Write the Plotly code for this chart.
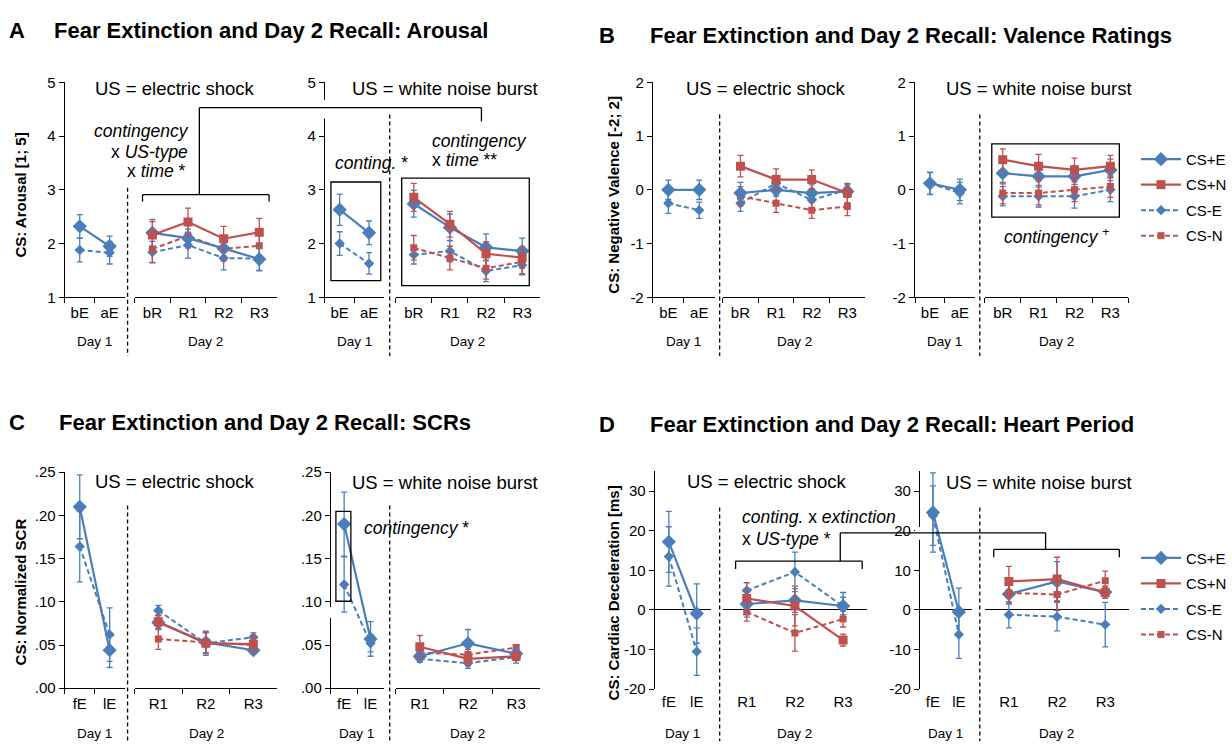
import plotly.graph_objects as go

W, H = 1232, 749
BLUE = "#4A7EBB"
RED = "#C0504D"
FONT = "Liberation Sans, Arial, sans-serif"

# ---------------- categories ----------------
rating_day1 = ["bE", "aE"]
rating_day2 = ["bR", "R1", "R2", "R3"]
phys_day1 = ["fE", "lE"]
phys_day2 = ["R1", "R2", "R3"]
series_names = ["CS+E", "CS+N", "CS-E", "CS-N"]

# ---------------- A: Arousal ----------------
A_shock_d1_CSpE = [2.32, 1.95]
A_shock_d1_CSpE_se = [0.22, 0.19]
A_shock_d1_CSmE = [1.88, 1.83]
A_shock_d1_CSmE_se = [0.22, 0.21]
A_shock_d2_CSpE = [2.20, 2.10, 1.91, 1.71]
A_shock_d2_CSpE_se = [0.25, 0.17, 0.20, 0.22]
A_shock_d2_CSpN = [2.16, 2.40, 2.09, 2.21]
A_shock_d2_CSpN_se = [0.25, 0.26, 0.23, 0.26]
A_shock_d2_CSmE = [1.84, 1.97, 1.73, 1.72]
A_shock_d2_CSmE_se = [0.20, 0.24, 0.22, 0.22]
A_shock_d2_CSmN = [1.90, 2.14, 1.90, 1.96]
A_shock_d2_CSmN_se = [0.25, 0.22, 0.22, 0.20]

A_noise_d1_CSpE = [2.63, 2.20]
A_noise_d1_CSpE_se = [0.29, 0.22]
A_noise_d1_CSmE = [2.00, 1.63]
A_noise_d1_CSmE_se = [0.22, 0.20]
A_noise_d2_CSpE = [2.74, 2.30, 1.93, 1.86]
A_noise_d2_CSpE_se = [0.25, 0.25, 0.25, 0.24]
A_noise_d2_CSpN = [2.86, 2.36, 1.81, 1.74]
A_noise_d2_CSpN_se = [0.26, 0.24, 0.22, 0.20]
A_noise_d2_CSmE = [1.79, 1.86, 1.49, 1.60]
A_noise_d2_CSmE_se = [0.17, 0.20, 0.20, 0.18]
A_noise_d2_CSmN = [1.92, 1.73, 1.54, 1.66]
A_noise_d2_CSmN_se = [0.23, 0.22, 0.20, 0.22]

# ---------------- B: Valence ----------------
B_shock_d1_CSpE = [0.0, 0.0]
B_shock_d1_CSpE_se = [0.18, 0.18]
B_shock_d1_CSmE = [-0.25, -0.38]
B_shock_d1_CSmE_se = [0.19, 0.15]
B_shock_d2_CSpE = [-0.06, 0.0, -0.06, -0.03]
B_shock_d2_CSpE_se = [0.20, 0.12, 0.15, 0.10]
B_shock_d2_CSpN = [0.44, 0.19, 0.19, -0.06]
B_shock_d2_CSpN_se = [0.20, 0.20, 0.18, 0.18]
B_shock_d2_CSmE = [-0.25, 0.12, -0.19, 0.0]
B_shock_d2_CSmE_se = [0.15, 0.15, 0.15, 0.10]
B_shock_d2_CSmN = [-0.12, -0.25, -0.38, -0.31]
B_shock_d2_CSmN_se = [0.18, 0.17, 0.15, 0.17]

B_noise_d1_CSpE = [0.12, 0.0]
B_noise_d1_CSpE_se = [0.21, 0.20]
B_noise_d1_CSmE = [0.12, -0.06]
B_noise_d1_CSmE_se = [0.20, 0.20]
B_noise_d2_CSpE = [0.31, 0.25, 0.25, 0.37]
B_noise_d2_CSpE_se = [0.20, 0.20, 0.20, 0.20]
B_noise_d2_CSpN = [0.56, 0.44, 0.37, 0.44]
B_noise_d2_CSpN_se = [0.20, 0.22, 0.22, 0.20]
B_noise_d2_CSmE = [-0.12, -0.12, -0.12, 0.0]
B_noise_d2_CSmE_se = [0.18, 0.20, 0.22, 0.22]
B_noise_d2_CSmN = [-0.06, -0.06, 0.0, 0.06]
B_noise_d2_CSmN_se = [0.20, 0.22, 0.22, 0.20]

# ---------------- C: SCR ----------------
C_shock_d1_CSpE = [0.210, 0.044]
C_shock_d1_CSpE_se = [0.037, 0.020]
C_shock_d1_CSmE = [0.164, 0.062]
C_shock_d1_CSmE_se = [0.041, 0.031]
C_shock_d2_CSpE = [0.076, 0.053, 0.044]
C_shock_d2_CSpE_se = [0.008, 0.012, 0.004]
C_shock_d2_CSpN = [0.077, 0.052, 0.051]
C_shock_d2_CSpN_se = [0.008, 0.012, 0.010]
C_shock_d2_CSmE = [0.090, 0.052, 0.059]
C_shock_d2_CSmE_se = [0.006, 0.014, 0.005]
C_shock_d2_CSmN = [0.057, 0.053, 0.050]
C_shock_d2_CSmN_se = [0.012, 0.012, 0.008]

C_noise_d1_CSpE = [0.190, 0.057]
C_noise_d1_CSpE_se = [0.037, 0.020]
C_noise_d1_CSmE = [0.120, 0.052]
C_noise_d1_CSmE_se = [0.032, 0.010]
C_noise_d2_CSpE = [0.037, 0.052, 0.040]
C_noise_d2_CSpE_se = [0.005, 0.016, 0.005]
C_noise_d2_CSpN = [0.048, 0.034, 0.037]
C_noise_d2_CSpN_se = [0.013, 0.008, 0.005]
C_noise_d2_CSmE = [0.034, 0.029, 0.036]
C_noise_d2_CSmE_se = [0.004, 0.006, 0.007]
C_noise_d2_CSmN = [0.041, 0.039, 0.047]
C_noise_d2_CSmN_se = [0.008, 0.006, 0.003]

# ---------------- D: Heart period ----------------
D_shock_d1_CSpE = [17.2, -0.9]
D_shock_d1_CSpE_se = [7.7, 7.5]
D_shock_d1_CSmE = [13.5, -10.5]
D_shock_d1_CSmE_se = [7.5, 6.0]
D_shock_d2_CSpE = [1.5, 2.4, 1.0]
D_shock_d2_CSpE_se = [3.3, 3.0, 2.2]
D_shock_d2_CSpN = [2.9, 1.0, -7.6]
D_shock_d2_CSpN_se = [4.0, 5.0, 1.5]
D_shock_d2_CSmE = [4.9, 9.6, 0.9]
D_shock_d2_CSmE_se = [2.0, 5.0, 3.5]
D_shock_d2_CSmN = [-0.5, -5.8, -2.3]
D_shock_d2_CSmN_se = [2.3, 4.6, 2.0]

D_noise_d1_CSpE = [24.6, -0.5]
D_noise_d1_CSpE_se = [10.0, 6.0]
D_noise_d1_CSmE = [23.8, -6.2]
D_noise_d1_CSmE_se = [7.5, 6.0]
D_noise_d2_CSpE = [4.0, 7.2, 4.5]
D_noise_d2_CSpE_se = [2.5, 5.0, 1.5]
D_noise_d2_CSpN = [7.2, 7.8, 4.4]
D_noise_d2_CSpN_se = [3.8, 5.5, 1.5]
D_noise_d2_CSmE = [-1.2, -1.7, -3.7]
D_noise_d2_CSmE_se = [3.3, 3.6, 5.6]
D_noise_d2_CSmN = [4.3, 3.9, 7.4]
D_noise_d2_CSmN_se = [2.5, 4.0, 2.4]

# ---------------- helpers ----------------
STYLE = {
    "CS+E": dict(color=BLUE, dash="solid", symbol="diamond", size=11, width=2.2),
    "CS+N": dict(color=RED, dash="solid", symbol="square", size=9, width=2.2),
    "CS-E": dict(color=BLUE, dash="5px,3px", symbol="diamond", size=8, width=2.0),
    "CS-N": dict(color=RED, dash="5px,3px", symbol="square", size=7, width=2.0),
}
TICK = 15

fig = go.Figure()
layout_axes = {}
annotations = []
shapes = []


def fx(p):
    return p / W


def fy(p):
    return 1 - p / H


def segment(n, x0, x1, y0, y1, cats, yrange, series, yaxis_shown,
            ytickvals=None, yticktext=None, zero=False, legend=None):
    xa = dict(domain=[fx(x0), fx(x1)], anchor=f"y{n}", type="category",
              categoryorder="array", categoryarray=cats,
              range=[-0.5, len(cats) - 0.5], showline=not zero,
              linecolor="black", linewidth=1.3, ticks="outside",
              tickson="boundaries", ticklen=5,
              tickcolor="black" if not zero else "rgba(0,0,0,0)",
              tickwidth=1.2, ticklabelstandoff=2,
              tickfont=dict(size=TICK, color="black", family=FONT),
              showgrid=False, zeroline=False, fixedrange=True)
    ya = dict(domain=[fy(y1), fy(y0)], anchor=f"x{n}", range=yrange,
              showgrid=False, fixedrange=True, zeroline=zero,
              zerolinecolor="black", zerolinewidth=1.3)
    if yaxis_shown:
        ya.update(showline=True, linecolor="black", linewidth=1.3,
                  ticks="outside", ticklen=5, tickcolor="black", tickwidth=1.2,
                  tickmode="array", tickvals=ytickvals, ticktext=yticktext,
                  tickfont=dict(size=TICK, color="black", family=FONT))
    else:
        ya.update(showline=False, ticks="", showticklabels=False)
    key = "" if n == 1 else str(n)
    layout_axes[f"xaxis{key}"] = xa
    layout_axes[f"yaxis{key}"] = ya
    for name, vals, se in series:
        st = STYLE[name]
        if legend:
            kw = dict(showlegend=True, legend=legend,
                      legendgroup=f"{legend}_{name}")
        else:
            kw = dict(showlegend=False)
        fig.add_trace(go.Scatter(
            x=cats, y=vals, name=name, mode="lines+markers",
            xaxis=f"x{key}", yaxis=f"y{key}",
            line=dict(color=st["color"], width=st["width"], dash=st["dash"]),
            marker=dict(symbol=st["symbol"], size=st["size"], color=st["color"]),
            error_y=dict(type="data", array=se, visible=True,
                         color=st["color"], thickness=1.3, width=3),
            hoverinfo="skip", **kw))


def txt(x, y, text, size, anchor="center", angle=0):
    annotations.append(dict(x=fx(x), y=fy(y), xref="paper", yref="paper",
                            text=text, showarrow=False, xanchor=anchor,
                            yanchor="middle", textangle=angle,
                            font=dict(size=size, family=FONT, color="black")))


def line(x0, y0, x1, y1, dash=None, width=1.3):
    shapes.append(dict(type="line", xref="paper", yref="paper",
                       x0=fx(x0), y0=fy(y0), x1=fx(x1), y1=fy(y1),
                       layer="above",
                       line=dict(color="black", width=width, dash=dash)))


def rect(x0, y0, x1, y1, fill=None, width=1.3):
    shapes.append(dict(type="rect", xref="paper", yref="paper",
                       x0=fx(x0), y0=fy(y0), x1=fx(x1), y1=fy(y1),
                       layer="above",
                       fillcolor=fill if fill else "rgba(0,0,0,0)",
                       line=dict(color="black" if not fill else fill,
                                 width=width if not fill else 0)))


# ---------------- Panel A ----------------
A_ticks = [1, 2, 3, 4, 5]
A_text = ["1", "2", "3", "4", "5"]
yA = (75, 295, [1, 5])
segment(1, 65, 125, yA[0], yA[1], rating_day1, yA[2],
        [("CS-E", A_shock_d1_CSmE, A_shock_d1_CSmE_se),
         ("CS+E", A_shock_d1_CSpE, A_shock_d1_CSpE_se)], True, A_ticks, A_text)
segment(2, 135, 278, yA[0], yA[1], rating_day2, yA[2],
        [("CS-E", A_shock_d2_CSmE, A_shock_d2_CSmE_se),
         ("CS-N", A_shock_d2_CSmN, A_shock_d2_CSmN_se),
         ("CS+E", A_shock_d2_CSpE, A_shock_d2_CSpE_se),
         ("CS+N", A_shock_d2_CSpN, A_shock_d2_CSpN_se)], False)
segment(3, 326, 385, yA[0], yA[1], rating_day1, yA[2],
        [("CS-E", A_noise_d1_CSmE, A_noise_d1_CSmE_se),
         ("CS+E", A_noise_d1_CSpE, A_noise_d1_CSpE_se)], True, A_ticks, A_text)
segment(4, 397, 542, yA[0], yA[1], rating_day2, yA[2],
        [("CS-E", A_noise_d2_CSmE, A_noise_d2_CSmE_se),
         ("CS-N", A_noise_d2_CSmN, A_noise_d2_CSmN_se),
         ("CS+E", A_noise_d2_CSpE, A_noise_d2_CSpE_se),
         ("CS+N", A_noise_d2_CSpN, A_noise_d2_CSpN_se)], False)

# ---------------- Panel B ----------------
B_ticks = [-2, -1, 0, 1, 2]
B_text = ["-2", "-1", "0", "1", "2"]
yB = (75, 295, [-2, 2])
segment(5, 655, 717, yB[0], yB[1], rating_day1, yB[2],
        [("CS-E", B_shock_d1_CSmE, B_shock_d1_CSmE_se),
         ("CS+E", B_shock_d1_CSpE, B_shock_d1_CSpE_se)], True, B_ticks, B_text)
segment(6, 725, 868, yB[0], yB[1], rating_day2, yB[2],
        [("CS-E", B_shock_d2_CSmE, B_shock_d2_CSmE_se),
         ("CS-N", B_shock_d2_CSmN, B_shock_d2_CSmN_se),
         ("CS+E", B_shock_d2_CSpE, B_shock_d2_CSpE_se),
         ("CS+N", B_shock_d2_CSpN, B_shock_d2_CSpN_se)], False)
segment(7, 918, 978, yB[0], yB[1], rating_day1, yB[2],
        [("CS-E", B_noise_d1_CSmE, B_noise_d1_CSmE_se),
         ("CS+E", B_noise_d1_CSpE, B_noise_d1_CSpE_se)], True, B_ticks, B_text)
segment(8, 988, 1132, yB[0], yB[1], rating_day2, yB[2],
        [("CS+E", B_noise_d2_CSpE, B_noise_d2_CSpE_se),
         ("CS+N", B_noise_d2_CSpN, B_noise_d2_CSpN_se),
         ("CS-E", B_noise_d2_CSmE, B_noise_d2_CSmE_se),
         ("CS-N", B_noise_d2_CSmN, B_noise_d2_CSmN_se)], False, legend="legend")

# ---------------- Panel C ----------------
C_ticks = [0, 0.05, 0.10, 0.15, 0.20, 0.25]
C_text = [".00", ".05", ".10", ".15", ".20", ".25"]
yC = (474, 695, [0, 0.25])
segment(9, 65, 125, yC[0], yC[1], phys_day1, yC[2],
        [("CS-E", C_shock_d1_CSmE, C_shock_d1_CSmE_se),
         ("CS+E", C_shock_d1_CSpE, C_shock_d1_CSpE_se)], True, C_ticks, C_text)
segment(10, 135, 278, yC[0], yC[1], phys_day2, yC[2],
        [("CS-E", C_shock_d2_CSmE, C_shock_d2_CSmE_se),
         ("CS-N", C_shock_d2_CSmN, C_shock_d2_CSmN_se),
         ("CS+E", C_shock_d2_CSpE, C_shock_d2_CSpE_se),
         ("CS+N", C_shock_d2_CSpN, C_shock_d2_CSpN_se)], False)
segment(11, 332, 385, yC[0], yC[1], phys_day1, yC[2],
        [("CS-E", C_noise_d1_CSmE, C_noise_d1_CSmE_se),
         ("CS+E", C_noise_d1_CSpE, C_noise_d1_CSpE_se)], True, C_ticks, C_text)
segment(12, 397, 542, yC[0], yC[1], phys_day2, yC[2],
        [("CS-E", C_noise_d2_CSmE, C_noise_d2_CSmE_se),
         ("CS-N", C_noise_d2_CSmN, C_noise_d2_CSmN_se),
         ("CS+E", C_noise_d2_CSpE, C_noise_d2_CSpE_se),
         ("CS+N", C_noise_d2_CSpN, C_noise_d2_CSpN_se)], False)

# ---------------- Panel D ----------------
D_ticks = [-20, -10, 0, 10, 20, 30]
D_text = ["-20", "-10", "0", "10", "20", "30"]
yD = (473, 696, [-20, 35])
segment(13, 657, 713, yD[0], yD[1], phys_day1, yD[2],
        [("CS-E", D_shock_d1_CSmE, D_shock_d1_CSmE_se),
         ("CS+E", D_shock_d1_CSpE, D_shock_d1_CSpE_se)], True, D_ticks, D_text,
        zero=True)
segment(14, 725, 870, yD[0], yD[1], phys_day2, yD[2],
        [("CS-E", D_shock_d2_CSmE, D_shock_d2_CSmE_se),
         ("CS-N", D_shock_d2_CSmN, D_shock_d2_CSmN_se),
         ("CS+E", D_shock_d2_CSpE, D_shock_d2_CSpE_se),
         ("CS+N", D_shock_d2_CSpN, D_shock_d2_CSpN_se)], False, zero=True)
segment(15, 923, 975, yD[0], yD[1], phys_day1, yD[2],
        [("CS-E", D_noise_d1_CSmE, D_noise_d1_CSmE_se),
         ("CS+E", D_noise_d1_CSpE, D_noise_d1_CSpE_se)], True, D_ticks, D_text,
        zero=True)
segment(16, 988, 1133, yD[0], yD[1], phys_day2, yD[2],
        [("CS+E", D_noise_d2_CSpE, D_noise_d2_CSpE_se),
         ("CS+N", D_noise_d2_CSpN, D_noise_d2_CSpN_se),
         ("CS-E", D_noise_d2_CSmE, D_noise_d2_CSmE_se),
         ("CS-N", D_noise_d2_CSmN, D_noise_d2_CSmN_se)], False, zero=True,
        legend="legend2")

# ---------------- titles ----------------
TS = 22
txt(17, 22, "<b>A</b>", TS)
txt(52, 22, "<b>Fear Extinction and Day 2 Recall: Arousal</b>", TS, "left")
txt(609, 27, "<b>B</b>", TS)
txt(650, 27, "<b>Fear Extinction and Day 2 Recall: Valence Ratings</b>", TS, "left")
txt(17, 423, "<b>C</b>", TS)
txt(57, 423, "<b>Fear Extinction and Day 2 Recall: SCRs</b>", TS, "left")
txt(609, 425, "<b>D</b>", TS)
txt(650, 425, "<b>Fear Extinction and Day 2 Recall: Heart Period</b>", TS, "left")

# y-axis titles
txt(21, 190, "<b>CS: Arousal [1; 5]</b>", 15, angle=-90)
txt(616, 190, "<b>CS: Negative Valence [-2; 2]</b>", 15, angle=-90)
txt(21, 596, "<b>CS: Normalized SCR</b>", 15, angle=-90)
txt(615, 598, "<b>CS: Cardiac Deceleration [ms]</b>", 15, angle=-90)

# US labels
US = 18.5
txt(176, 81, "US = electric shock", US)
txt(446, 81, "US = white noise burst", US)
txt(768, 81, "US = electric shock", US)
txt(1042, 81, "US = white noise burst", US)
txt(176, 483, "US = electric shock", US)
txt(446, 484, "US = white noise burst", US)
txt(769, 483, "US = electric shock", US)
txt(1042, 485, "US = white noise burst", US)

# Day labels
DS = 13.5
for (x, y, t) in [(95, 340, "Day 1"), (206, 340, "Day 2"),
                  (356, 340, "Day 1"), (469, 340, "Day 2"),
                  (686, 340, "Day 1"), (797, 340, "Day 2"),
                  (948, 340, "Day 1"), (1060, 340, "Day 2"),
                  (95, 741, "Day 1"), (207, 741, "Day 2"),
                  (358, 741, "Day 1"), (469, 741, "Day 2"),
                  (685, 741, "Day 1"), (797, 741, "Day 2"),
                  (949, 741, "Day 1"), (1060, 741, "Day 2")]:
    txt(x, y, t, DS)

# statistics labels
ST = 17.5
txt(192, 125, "<i>contingency</i>", ST, "right")
txt(191, 146, "x <i>US-type</i>", ST, "right")
txt(189, 166, "x <i>time</i> *", ST, "right")
txt(334, 158, "<i>conting.</i> *", ST, "left")
txt(431, 135, "<i>contingency</i>", ST, "left")
txt(431, 155, "x <i>time</i> **", ST, "left")
txt(1060, 232, "<i>contingency</i> <sup>+</sup>", ST)
txt(363, 531, "<i>contingency</i> *", ST, "left")
txt(742, 520, "<i>conting.</i> x <i>extinction</i>", ST, "left")
txt(742, 542, "x <i>US-type</i> *", ST, "left")

# ---------------- shapes ----------------
DASH = "4px,3px"
line(128, 183, 128, 355, DASH)
line(391, 108, 391, 355, DASH)
line(722, 108, 722, 355, DASH)
line(983, 108, 983, 355, DASH)
line(128, 508, 128, 749, DASH)
line(391, 508, 391, 749, DASH)
line(722, 510, 722, 749, DASH)
line(983, 510, 983, 749, DASH)

# white gaps in y-axes
rect(321, 93, 331, 112, fill="white")
rect(327, 612, 336, 623, fill="white")
rect(918, 530, 928, 543, fill="white")

# brackets A
line(143, 190, 270, 190)
line(143, 190, 143, 197)
line(270, 190, 270, 197)
line(200, 190, 200, 101)
line(200, 101, 483, 101)
line(483, 101, 483, 115)
# brackets D
line(738, 565, 865, 565)
line(738, 565, 738, 573)
line(865, 565, 865, 573)
line(843, 565, 843, 536)
line(843, 536, 1049, 536)
line(1049, 536, 1049, 553)
line(997, 553, 1123, 553)
line(997, 553, 997, 561)
line(1123, 553, 1123, 561)

# boxes
rect(332, 177, 382, 278)
rect(403, 173, 531, 283)
rect(995, 138, 1123, 213)
rect(337, 514, 352, 606)

legend_common = dict(xanchor="left", yanchor="top", bgcolor="rgba(0,0,0,0)",
                     font=dict(size=15, family=FONT, color="black"),
                     traceorder="grouped", tracegroupgap=3, itemwidth=40)

fig.update_layout(
    width=W, height=H, margin=dict(l=0, r=0, t=0, b=0),
    paper_bgcolor="white", plot_bgcolor="white",
    font=dict(family=FONT, color="black"),
    annotations=annotations, shapes=shapes,
    legend=dict(x=fx(1140), y=fy(137), **legend_common),
    legend2=dict(x=fx(1140), y=fy(545), **legend_common),
    **layout_axes,
)

fig.write_html("out.html")
